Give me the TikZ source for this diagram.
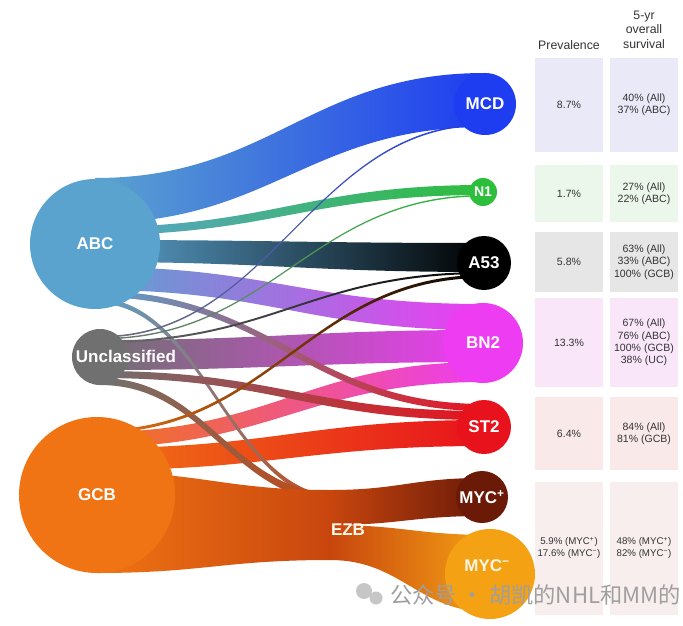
\documentclass[tikz,border=0pt]{standalone}
\usepackage{fontspec}
\setmainfont{Liberation Sans}
\newfontfamily\cjk{Noto Sans CJK SC}
\usepackage[svgnames]{xcolor}
\usepackage{tikz}
\usetikzlibrary{calc, backgrounds}

\definecolor{abcblue}{HTML}{5BA3CF}
\definecolor{uncgray}{HTML}{707070}
\definecolor{gcborange}{HTML}{F07414}
\definecolor{mcdblue}{HTML}{1E3CF0}
\definecolor{nonegreen}{HTML}{2DBE3C}
\definecolor{bnmagenta}{HTML}{EE3CF2}
\definecolor{stred}{HTML}{E8121C}
\definecolor{ezbred}{HTML}{C8460E}
\definecolor{mycpbrown}{HTML}{6B1A08}
\definecolor{mycmorange}{HTML}{F5A114}
\definecolor{celltext}{HTML}{333333}
\definecolor{rowMCD}{HTML}{E9E9F7}
\definecolor{rowNone}{HTML}{EBF7EB}
\definecolor{rowAfs}{HTML}{E6E6E6}
\definecolor{rowBN}{HTML}{F9E7F9}
\definecolor{rowST}{HTML}{F9E9E9}
\definecolor{rowMYC}{HTML}{F8EEEE}

\begin{document}
\begin{tikzpicture}[x=0.03cm, y=-0.03cm,
  background rectangle/.style={fill=white}, inner frame sep=0pt, show background rectangle,
  blob/.style={circle, inner sep=0pt, minimum size={0.06cm*#1}},
  tag/.style={text=white, font=\fontsize{14.5}{16}\selectfont\bfseries},
  cell/.style={text=celltext, font=\fontsize{9}{10.5}\selectfont, align=center},
  head/.style={text=celltext, font=\fontsize{10.5}{12.5}\selectfont, align=center}]
\useasboundingbox (0,0) rectangle (683,625);

% flows: source x / top / bottom, target x / top / bottom, colours
\foreach \fx/\fa/\fb/\gx/\ga/\gb/\fcol/\gcol in {
  95/178/223/485/73/127/abcblue/mcdblue,
  95/227/235/483/185/195/abcblue/nonegreen,
  95/240/262/484/243/272/abcblue/black,
  95/267/290/483/304/330/abcblue/bnmagenta,
  100/340/370/483/330/362/uncgray/bnmagenta,
  97/448/470/484/420/446/gcborange/stred,
  97/432/447/483/362/382/gcborange/bnmagenta,
  95/298/303/340/496/501/abcblue/ezbred,
  100/378/385/340/494/502/uncgray/ezbred,
  97/472/573/330/490/560/gcborange/ezbred,
  330/525/560/490/535/612/ezbred/mycmorange,
  330/490/525/482/478/516/ezbred/mycpbrown,
  95/291/297/484/404/411/abcblue/stred,
  100/371/378/484/411/420/uncgray/stred,
  100/336/337.6/485/124/125.6/uncgray/mcdblue,
  100/338/339.4/483/195/196.4/uncgray/nonegreen,
  100/341/343/484/272/274/uncgray/black,
  97/430/433/484/275/278/gcborange/black}
{
  \pgfmathsetmacro{\cpa}{\fx+0.45*(\gx-\fx)}
  \pgfmathsetmacro{\cpb}{\gx-0.45*(\gx-\fx)}
  \shade [left color=\fcol, right color=\gcol] (\fx,\fa) .. controls (\cpa,\fa) and (\cpb,\ga) .. (\gx,\ga)
    -- (\gx,\gb) .. controls (\cpb,\gb) and (\cpa,\fb) .. (\fx,\fb) -- cycle;
}

% subtypes
\node [blob=65, fill=abcblue, tag] (ABC) at (95,244) {ABC};
\node [blob=28, fill=uncgray] (UNC) at (100,357) {};
\node [tag] (UNClabel) at (126,356) {Unclassified};
\node [blob=78, fill=gcborange, tag] (GCB) at (97,495) {GCB};
\node [tag, text=White!92!Orange] (EZB) at (348,530) {EZB};

\node [blob=31, fill=mcdblue, tag] (MCD) at (485,104) {MCD};
\node [blob=14, fill=nonegreen, tag, font=\fontsize{12}{13}\selectfont\bfseries] (None) at (483,192) {N1};
\node [blob=27, fill=black, tag] (Afs) at (484,263) {A53};
\node [blob=40, fill=bnmagenta, tag] (BN) at (483,343) {BN2};
\node [blob=27, fill=stred, tag] (ST) at (484,427) {ST2};
\node [blob=26, fill=mycpbrown, tag] (MYCp) at (482,497) {MYC\textsuperscript{+}};
\node [blob=45, fill=mycmorange] (MYCm) at (490,574) {};
\node [tag, text=White!90!Orange] (MYCmlabel) at (487,566) {MYC\textsuperscript{−}};

% table
\node [head] (prevhead) at (569,45) {Prevalence};
\node [head] (survhead) at (644,29.5) {5-yr\\overall\\survival};

\foreach \ya/\yb/\fc/\prev/\surv [count=\i] in {
  58/152/rowMCD/{8.7\%}/{40\% (All)\\37\% (ABC)},
  165/222/rowNone/{1.7\%}/{27\% (All)\\22\% (ABC)},
  232/292/rowAfs/{5.8\%}/{63\% (All)\\33\% (ABC)\\100\% (GCB)},
  298/387/rowBN/{13.3\%}/{67\% (All)\\76\% (ABC)\\100\% (GCB)\\38\% (UC)},
  397/470/rowST/{6.4\%}/{84\% (All)\\81\% (GCB)}}
{
  \fill [\fc] (535,\ya) rectangle (603,\yb);
  \fill [\fc] (610,\ya) rectangle (678,\yb);
  \node [cell] (prev\i) at (569,{(\ya+\yb)/2}) {\prev};
  \node [cell] (surv\i) at (644,{(\ya+\yb)/2}) {\surv};
}
\fill [rowMYC] (535,482) rectangle (603,615);
\fill [rowMYC] (610,482) rectangle (678,615);
\node [cell, font=\fontsize{8.3}{10}\selectfont] (prev6) at (569,548) {5.9\% (MYC\textsuperscript{+})\\17.6\% (MYC\textsuperscript{−})};
\node [cell, font=\fontsize{8.3}{10}\selectfont] (surv6) at (644,548) {48\% (MYC\textsuperscript{+})\\82\% (MYC\textsuperscript{−})};

% watermark
\fill [gray!45] (364,591) circle [radius=8];
\fill [gray!45] (376,598) circle [radius=6.5];
\node [text=gray!75, font=\cjk\fontsize{19}{21}\selectfont, anchor=west] (mark) at (386,595) {公众号 · 胡凯的NHL和MM的};
\end{tikzpicture}
\end{document}
